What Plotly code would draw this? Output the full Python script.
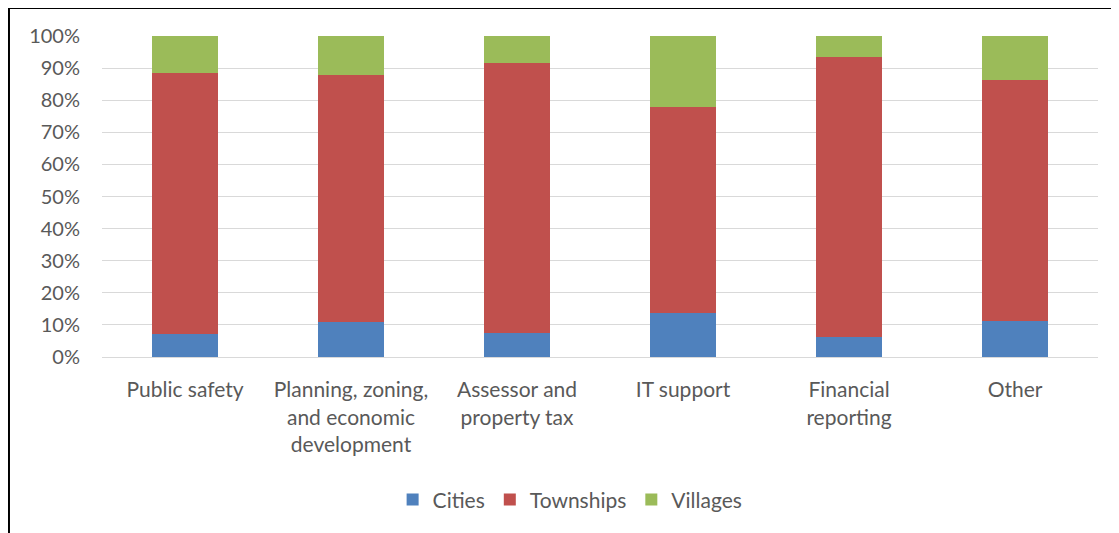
import plotly.graph_objects as go

categories = [
    "Public safety",
    "Planning, zoning,<br>and economic<br>development",
    "Assessor and<br>property tax",
    "IT support",
    "Financial<br>reporting",
    "Other",
]

cities = [7.2, 11.0, 7.6, 13.8, 6.2, 11.1]
townships = [81.4, 76.8, 84.0, 64.2, 87.3, 75.1]
villages = [11.4, 12.2, 8.4, 22.0, 6.5, 13.8]

y_ticks = [0, 10, 20, 30, 40, 50, 60, 70, 80, 90, 100]
y_labels = [f"{v}%" for v in y_ticks]

series = [
    ("Cities", cities, "#4F81BD"),
    ("Townships", townships, "#C0504D"),
    ("Villages", villages, "#9BBB59"),
]

FONT = "Lato, sans-serif"

fig = go.Figure()
for name, vals, color in series:
    fig.add_trace(go.Bar(
        x=categories,
        y=vals,
        name=name,
        marker=dict(color=color, line=dict(width=0)),
    ))

# page body has an 8px margin, so the figure is shifted by that much
fig.update_layout(
    barmode="stack",
    bargap=0.6,
    width=1111,
    height=525,
    margin=dict(l=94, r=21, t=28, b=176),
    paper_bgcolor="white",
    plot_bgcolor="white",
    font=dict(family=FONT, size=20, color="#595959"),
    showlegend=True,
    legend=dict(
        orientation="h",
        traceorder="normal",
        x=0.47, xanchor="center",
        y=-0.445, yanchor="middle",
        font=dict(size=21, color="#595959"),
    ),
    shapes=[
        dict(type="rect", xref="paper", yref="paper",
             x0=-0.0934, x1=1.03, y0=-0.6, y1=1.087,
             line=dict(color="black", width=2), fillcolor="rgba(0,0,0,0)")
    ],
)

fig.update_yaxes(
    range=[0, 100],
    tickvals=y_ticks,
    ticktext=y_labels,
    showgrid=True,
    gridcolor="#D9D9D9",
    gridwidth=1,
    zeroline=False,
    showline=False,
    ticklabelstandoff=21,
    tickfont=dict(size=20),
)
fig.update_xaxes(
    showline=True,
    linecolor="#D9D9D9",
    linewidth=1,
    ticks="",
    tickangle=0,
    ticklabelstandoff=14,
    tickfont=dict(size=21),
)

fig.write_html("out.html")
